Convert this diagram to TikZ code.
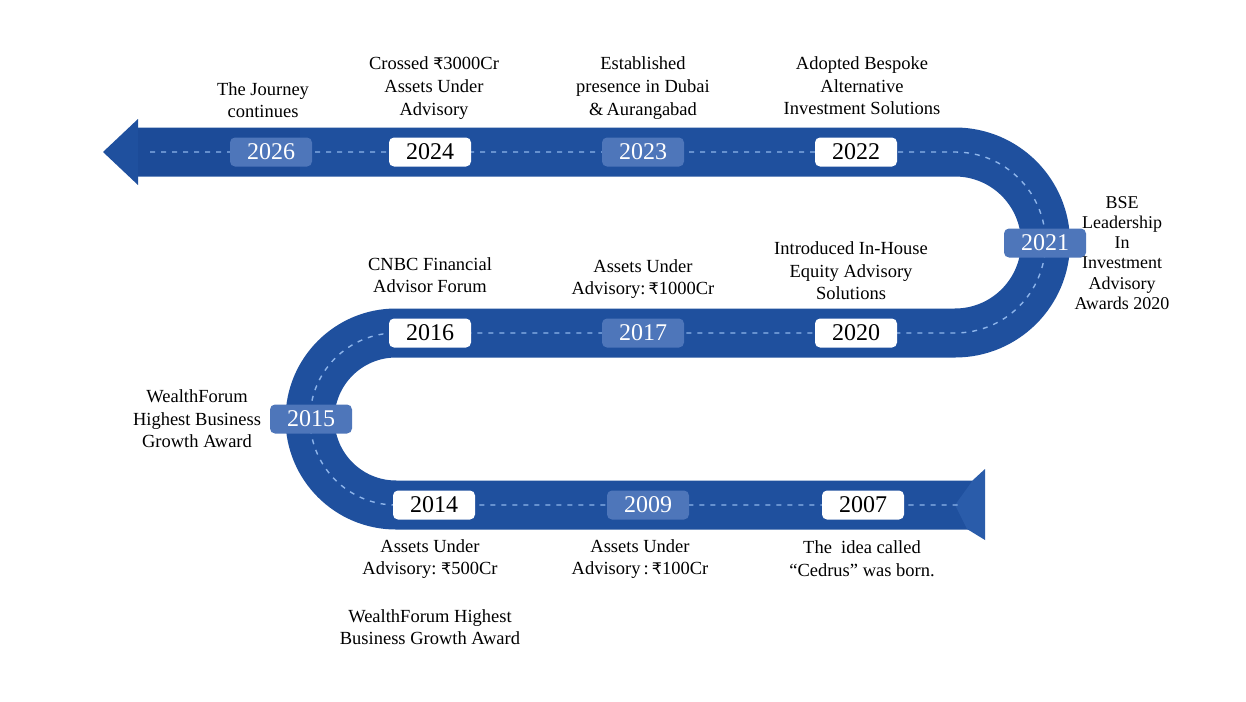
\documentclass[tikz,border=0pt]{standalone}
\usepackage{fontspec}
\setmainfont{Liberation Serif}
\newfontfamily\rupeefont{DejaVu Sans}
\newcommand{\INR}{{\rupeefont\fontsize{16}{20}\selectfont ₹}}
\definecolor{road}{RGB}{31,80,158}
\definecolor{roadlight}{RGB}{42,92,170}
\definecolor{roaddark}{RGB}{28,75,152}
\definecolor{dashc}{RGB}{141,180,234}
\definecolor{ghost}{RGB}{78,118,186}
\tikzset{
  roadband/.style={draw=road,line width=49pt},
  centerdash/.style={draw=dashc,line width=1.4pt,dash pattern=on 5pt off 6pt},
  whitebadge/.style={fill=white,rounded corners=5pt,minimum width=82pt,minimum height=29pt,inner sep=0pt,text=black,font=\fontsize{24}{26}\selectfont},
  ghostbadge/.style={fill=ghost,rounded corners=5pt,minimum width=82pt,minimum height=29pt,inner sep=0pt,text=white,font=\fontsize{24}{26}\selectfont},
  lbl/.style={align=center,inner sep=0pt,text=black,font=\fontsize{18.5}{22.6}\selectfont}
}
\begin{document}
\begin{tikzpicture}[x=1pt,y=1pt]
\useasboundingbox (0,0) rectangle (1246,-701);
\fill[white] (0,0) rectangle (1246,-701);
% road body
\draw[roadband] (138,-152) -- (955,-152)
  arc[start angle=90,end angle=-90,radius=90.5] -- (396,-333)
  arc[start angle=90,end angle=270,radius=86] -- (975,-505);
% left arrow head
\fill[road] (103,-152) -- (138,-119) -- (138,-185) -- cycle;
\fill[roaddark] (138,-128) rectangle (300,-176);
% right flared tail
\fill[roadlight] (973,-480) -- (985,-469) -- (985,-540) -- (967,-529) -- (955,-505) -- cycle;
% center dashed line
\draw[centerdash] (150,-152) -- (955,-152)
  arc[start angle=90,end angle=-90,radius=90.5] -- (396,-333)
  arc[start angle=90,end angle=270,radius=86] -- (960,-505);
% badges
\node[ghostbadge] (b2026) at (271,-152) {2026};
\node[whitebadge] (b2024) at (430,-152) {2024};
\node[ghostbadge] (b2023) at (643,-152) {2023};
\node[whitebadge] (b2022) at (856,-152) {2022};
\node[ghostbadge] (b2021) at (1045,-243) {2021};
\node[whitebadge] (b2020) at (856,-333) {2020};
\node[ghostbadge] (b2017) at (643,-333) {2017};
\node[whitebadge] (b2016) at (430,-333) {2016};
\node[ghostbadge] (b2015) at (311,-419) {2015};
\node[whitebadge] (b2014) at (434,-505) {2014};
\node[ghostbadge] (b2009) at (648,-505) {2009};
\node[whitebadge] (b2007) at (863,-505) {2007};
% labels
\node[lbl] (l2026) at (263,-100) {The Journey\\continues};
\node[lbl] (l2024) at (434,-88) {Crossed \INR3000Cr\\Assets Under\\Advisory};
\node[lbl] (l2023) at (643,-88) {Established\\presence in Dubai\\\&\,Aurangabad};
\node[lbl] (l2022) at (862,-86) {Adopted Bespoke\\Alternative\\Investment Solutions};
\node[lbl,font=\fontsize{18}{20.2}\selectfont] (l2021) at (1122,-253) {BSE\\Leadership\\In\\Investment\\Advisory\\Awards 2020};
\node[lbl] (l2020) at (851,-271) {Introduced In-House\\Equity Advisory\\Solutions};
\node[lbl] (l2017) at (643,-279) {Assets Under\\Advisory:\,\INR1000Cr};
\node[lbl] (l2016) at (430,-275) {CNBC Financial\\Advisor Forum};
\node[lbl] (l2015) at (197,-419) {WealthForum\\Highest Business\\Growth Award};
\node[lbl] (l2014) at (430,-559) {Assets Under\\Advisory:\ \INR500Cr};
\node[lbl] (l2014b) at (430,-627) {WealthForum Highest\\Business Growth Award};
\node[lbl] (l2009) at (640,-559) {Assets Under\\Advisory\,:\,\INR100Cr};
\node[lbl] (l2007) at (862,-559) {The\ \ idea called\\“Cedrus” was born.};
\end{tikzpicture}
\end{document}
